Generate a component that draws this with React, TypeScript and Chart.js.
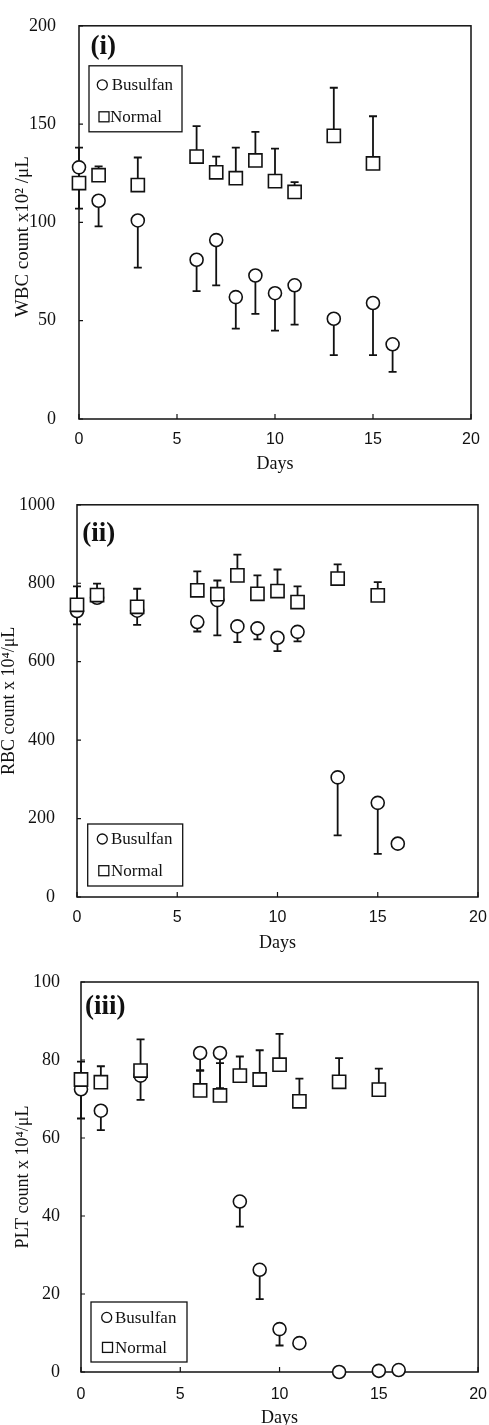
import React, { useEffect, useRef } from "react";
import { Chart, registerables } from "chart.js";

Chart.register(...registerables);

// ---------------- data ----------------
const dayTicks = [0, 5, 10, 15, 20];
const dayTickLabels = ["0", "5", "10", "15", "20"];
const legendLabels = ["Busulfan", "Normal"];
const xTitle = "Days";

const busulfanDays = [0, 1, 3, 6, 7, 8, 9, 10, 11, 13, 15, 16];
const normalDays = [0, 1, 3, 6, 7, 8, 9, 10, 11, 13, 15];

// (i) WBC
const wbcTicks = [0, 50, 100, 150, 200];
const wbcTickLabels = ["0", "50", "100", "150", "200"];
const wbcBusulfan = [128, 111, 101, 81, 91, 62, 73, 64, 68, 51, 59, 38];
const wbcBusulfanSD = [21, 13, 24, 16, 23, 16, 19.5, 19, 20, 18.5, 26.5, 14];
const wbcNormal = [120, 124, 119, 133.5, 125.5, 122.5, 131.5, 121, 115.5, 144, 130];
const wbcNormalSD = [18, 4.5, 14, 15.5, 8, 15.5, 14.5, 16.5, 5, 24.5, 24];

// (ii) RBC
const rbcTicks = [0, 200, 400, 600, 800, 1000];
const rbcTickLabels = ["0", "200", "400", "600", "800", "1000"];
const rbcBusulfan = [729, 763, 730, 701, 757, 690, 685, 661, 676, 305, 240, 136];
const rbcBusulfanSD = [34, 0, 36, 24, 90, 40, 28, 34, 24, 148, 130, 0];
const rbcNormal = [745, 770, 740, 782, 772, 820, 773, 780, 752, 812, 769];
const rbcNormalSD = [47, 29, 46, 48, 35, 53, 47, 55, 40, 36, 34];

// (iii) PLT
const pltTicks = [0, 20, 40, 60, 80, 100];
const pltTickLabels = ["0", "20", "40", "60", "80", "100"];
const pltBusulfan = [72.5, 67, 76, 81.8, 81.8, 43.7, 26.2, 11, 7.4, 0, 0.3, 0.5];
const pltBusulfanSD = [7.5, 5, 6.2, 4.4, 9, 6.4, 7.5, 4.2, 0, 0, 0, 0];
const pltNormal = [75, 74.3, 77.3, 72.2, 70.9, 76, 75, 78.8, 69.4, 74.4, 72.4];
const pltNormalSD = [4.6, 4.1, 8, 5, 8.3, 4.9, 7.5, 7.9, 5.8, 6.1, 5.4];

// ---------------- styles ----------------
const INK = "#111";
const SERIF = "'Liberation Serif', 'Times New Roman', serif";
const SANS = "'Liberation Sans', Arial, sans-serif";

const decorPlugin = {
  id: "panelDecor",
  beforeDatasetsDraw(chart: any) {
    const { ctx, chartArea: a } = chart;
    const x = chart.scales.x;
    const y = chart.scales.y;
    ctx.save();
    ctx.strokeStyle = INK;
    ctx.lineWidth = 1.5;
    ctx.strokeRect(a.left, a.top, a.right - a.left, a.bottom - a.top);
    // inward ticks
    ctx.lineWidth = 1.2;
    ctx.beginPath();
    y.ticks.forEach((t: any) => {
      const py = y.getPixelForValue(t.value);
      ctx.moveTo(a.left, py);
      ctx.lineTo(a.left + 4, py);
    });
    x.ticks.forEach((t: any) => {
      const px = x.getPixelForValue(t.value);
      ctx.moveTo(px, a.bottom);
      ctx.lineTo(px, a.bottom - 5);
    });
    ctx.stroke();
    // error bars (one-sided)
    ctx.lineWidth = 1.8;
    chart.data.datasets.forEach((ds: any) => {
      const errs: number[] = ds.errors || [];
      const dir: number = ds.errDir || 1;
      ds.data.forEach((pt: any, i: number) => {
        const e = errs[i];
        if (!e) return;
        const px = x.getPixelForValue(pt.x);
        const p0 = y.getPixelForValue(pt.y);
        const p1 = y.getPixelForValue(pt.y + dir * e);
        ctx.beginPath();
        ctx.moveTo(px, p0);
        ctx.lineTo(px, p1);
        ctx.moveTo(px - 4, p1);
        ctx.lineTo(px + 4, p1);
        ctx.stroke();
      });
    });
    ctx.restore();
  },
  afterDatasetsDraw(chart: any, _args: any, opts: any) {
    const { ctx, chartArea: a } = chart;
    const L = opts.legend;
    ctx.save();
    ctx.strokeStyle = INK;
    ctx.fillStyle = INK;
    // legend box
    const bx = a.left + L.dx;
    const by = L.fromBottom != null ? a.bottom - L.fromBottom - L.h : a.top + L.dy;
    ctx.lineWidth = 1.3;
    ctx.strokeRect(bx, by, L.w, L.h);
    ctx.font = `17px ${SERIF}`;
    ctx.textBaseline = "middle";
    ctx.textAlign = "left";
    // circle row
    ctx.beginPath();
    ctx.arc(bx + L.circX, by + L.rows[0], 5, 0, Math.PI * 2);
    ctx.stroke();
    ctx.fillText(opts.labels[0], bx + L.textX[0], by + L.rows[0] + 1);
    // square row
    ctx.strokeRect(bx + L.sqX - 5, by + L.rows[1] - 5, 10, 10);
    ctx.fillText(opts.labels[1], bx + L.textX[1], by + L.rows[1] + 1);
    // panel tag
    ctx.font = `bold 27px ${SERIF}`;
    ctx.textBaseline = "alphabetic";
    ctx.fillText(opts.tag, a.left + opts.tagX, a.top + opts.tagY);
    ctx.restore();
  },
};

type Spec = {
  top: number;
  height: number;
  padTop: number;
  padRight: number;
  yWidth: number;
  xHeight: number;
  xTickGap: number;
  yTickPad: number;
  xTitlePad: number;
  yTitlePad: number;
  yTitleSize: number;
  yTitle: string;
  yTicks: number[];
  yTickLabels: string[];
  yMax: number;
  busulfan: number[];
  busulfanSD: number[];
  normal: number[];
  normalSD: number[];
  tag: string;
  tagX: number;
  tagY: number;
  legend: any;
};

function buildConfig(s: Spec): any {
  return {
    type: "scatter",
    data: {
      datasets: [
        {
          label: legendLabels[1],
          data: normalDays.map((d, i) => ({ x: d, y: s.normal[i] })),
          errors: s.normalSD,
          errDir: 1,
          pointStyle: "rect",
          pointRadius: 9.3,
          borderWidth: 1.6,
          borderColor: INK,
          backgroundColor: "#fff",
          clip: false,
        },
        {
          label: legendLabels[0],
          data: busulfanDays.map((d, i) => ({ x: d, y: s.busulfan[i] })),
          errors: s.busulfanSD,
          errDir: -1,
          pointStyle: "circle",
          pointRadius: 6.5,
          borderWidth: 1.6,
          borderColor: INK,
          backgroundColor: "#fff",
          clip: false,
        },
      ],
    },
    options: {
      animation: false,
      responsive: false,
      events: [],
      layout: { padding: { top: s.padTop, right: s.padRight, left: 0, bottom: 0 } },
      plugins: {
        legend: { display: false },
        tooltip: { enabled: false },
        panelDecor: {
          legend: s.legend,
          labels: legendLabels,
          tag: s.tag,
          tagX: s.tagX,
          tagY: s.tagY,
        },
      },
      scales: {
        x: {
          type: "linear",
          min: dayTicks[0],
          max: dayTicks[dayTicks.length - 1],
          afterBuildTicks: (sc: any) => {
            sc.ticks = dayTicks.map((v) => ({ value: v }));
          },
          afterFit: (sc: any) => {
            sc.height = s.xHeight;
          },
          grid: {
            display: true,
            drawOnChartArea: false,
            drawTicks: true,
            tickLength: s.xTickGap,
            color: "rgba(0,0,0,0)",
          },
          border: { display: false },
          ticks: {
            color: INK,
            font: { family: SANS, size: 16 },
            padding: 0,
            maxRotation: 0,
            callback: (_v: any, i: number) => dayTickLabels[i],
          },
          title: {
            display: true,
            text: xTitle,
            color: INK,
            font: { family: SERIF, size: 18, lineHeight: 1 },
            padding: { top: 0, bottom: s.xTitlePad },
          },
        },
        y: {
          type: "linear",
          min: 0,
          max: s.yMax,
          afterBuildTicks: (sc: any) => {
            sc.ticks = s.yTicks.map((v) => ({ value: v }));
          },
          afterFit: (sc: any) => {
            sc.width = s.yWidth;
          },
          grid: { display: false },
          border: { display: false },
          ticks: {
            color: INK,
            font: { family: SERIF, size: 18 },
            padding: s.yTickPad,
            callback: (_v: any, i: number) => s.yTickLabels[i],
          },
          title: {
            display: true,
            text: s.yTitle,
            color: INK,
            font: { family: SERIF, size: s.yTitleSize, lineHeight: 1 },
            padding: { top: s.yTitlePad, bottom: 0 },
          },
        },
      },
    },
    plugins: [decorPlugin],
  };
}

const specs: Spec[] = [
  {
    top: 0,
    height: 480,
    padTop: 22,
    padRight: 18,
    yWidth: 79,
    xHeight: 61,
    xTickGap: 10.7,
    yTickPad: 15,
    xTitlePad: 7.2,
    yTitlePad: 13.5,
    yTitleSize: 19,
    yTitle: "WBC count x10\u00B2 /\u03BCL      ",
    yTicks: wbcTicks,
    yTickLabels: wbcTickLabels,
    yMax: 200,
    busulfan: wbcBusulfan,
    busulfanSD: wbcBusulfanSD,
    normal: wbcNormal,
    normalSD: wbcNormalSD,
    tag: "(i)",
    tagX: 11.5,
    tagY: 28.6,
    legend: { dx: 10, dy: 40, w: 93, h: 66, rows: [19, 51], circX: 13.3, sqX: 15, textX: [22.7, 21] },
  },
  {
    top: 480,
    height: 480,
    padTop: 23,
    padRight: 11,
    yWidth: 77,
    xHeight: 63,
    xTickGap: 11.2,
    yTickPad: 14,
    xTitlePad: 8,
    yTitlePad: 0,
    yTitleSize: 18,
    yTitle: "RBC count x 10\u2074/\u03BCL",
    yTicks: rbcTicks,
    yTickLabels: rbcTickLabels,
    yMax: 1000,
    busulfan: rbcBusulfan,
    busulfanSD: rbcBusulfanSD,
    normal: rbcNormal,
    normalSD: rbcNormalSD,
    tag: "(ii)",
    tagX: 5.3,
    tagY: 35.8,
    legend: { dx: 10.7, fromBottom: 11, w: 95, h: 62, rows: [15, 46.7], circX: 14.6, sqX: 16.1, textX: [23.3, 23.3] },
  },
  {
    top: 950,
    height: 490,
    padTop: 32,
    padRight: 9,
    yWidth: 81,
    xHeight: 68,
    xTickGap: 13.4,
    yTickPad: 13,
    xTitlePad: 13,
    yTitlePad: 14.4,
    yTitleSize: 18,
    yTitle: "PLT count x 10\u2074/\u03BCL",
    yTicks: pltTicks,
    yTickLabels: pltTickLabels,
    yMax: 100,
    busulfan: pltBusulfan,
    busulfanSD: pltBusulfanSD,
    normal: pltNormal,
    normalSD: pltNormalSD,
    tag: "(iii)",
    tagX: 4,
    tagY: 31.8,
    legend: { dx: 10, fromBottom: 10, w: 96, h: 60, rows: [15.4, 45.4], circX: 15.7, sqX: 16.5, textX: [24, 24] },
  },
];

function Panel({ spec }: { spec: Spec }) {
  const ref = useRef<HTMLCanvasElement>(null);
  useEffect(() => {
    const chart = new Chart(ref.current as HTMLCanvasElement, buildConfig(spec));
    return () => chart.destroy();
  }, [spec]);
  return (
    <canvas
      ref={ref}
      width={489}
      height={spec.height}
      style={{ position: "absolute", left: 0, top: spec.top, width: 489, height: spec.height }}
    />
  );
}

export default function App() {
  return (
    <div
      style={{
        position: "absolute",
        left: 0,
        top: 0,
        width: 489,
        height: 1425,
        overflow: "hidden",
        background: "#fff",
      }}
    >
      {specs.map((s, i) => (
        <Panel key={i} spec={s} />
      ))}
    </div>
  );
}
